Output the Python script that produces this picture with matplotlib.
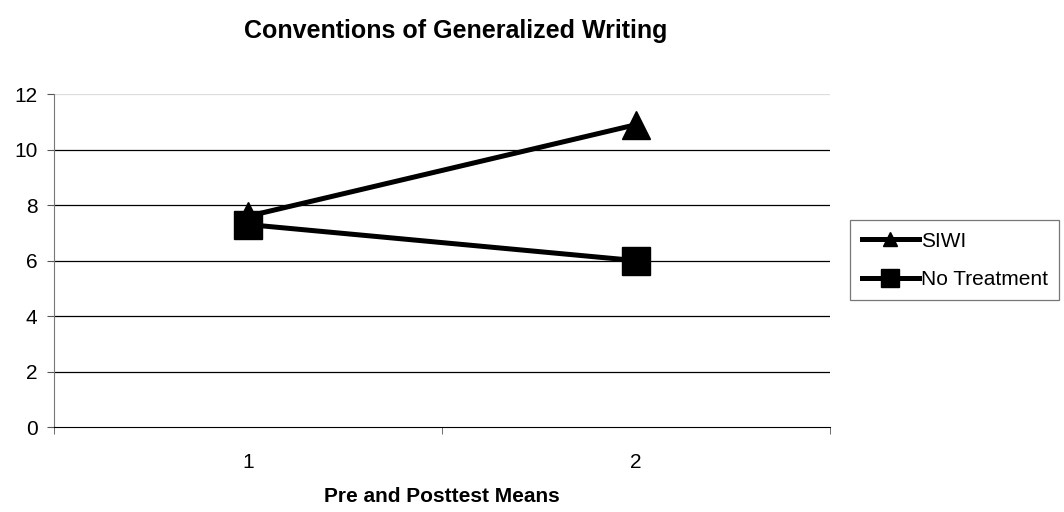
import matplotlib.pyplot as plt
from matplotlib.lines import Line2D

plt.rcParams['font.family'] = ['Liberation Sans', 'DejaVu Sans']

tests = [1, 2]
siwi = [7.6, 10.9]
no_treatment = [7.3, 6.0]
series_names = ["SIWI", "No Treatment"]

fig = plt.figure(figsize=(10.64, 5.12), dpi=100)
ax = fig.add_axes([0.0508, 0.166, 0.729, 0.650])

ax.plot(tests, siwi, color='black', lw=3.6, marker='^', markersize=20)
ax.plot(tests, no_treatment, color='black', lw=3.6, marker='s', markersize=20)

ax.set_xlim(0.5, 2.5)
ax.set_ylim(0, 12)
ax.set_yticks(range(0, 13, 2))
ax.set_xticks(tests)
ax.set_xticks([0.5, 1.5, 2.5], minor=True)
ax.tick_params(axis='x', which='major', length=0, labelsize=15, pad=19)
ax.tick_params(axis='x', which='minor', length=5, color='#555555', direction='out')
ax.tick_params(axis='y', length=5, color='#555555', labelsize=15, pad=7)

for y in range(2, 12, 2):
    ax.axhline(y, color='black', lw=0.9, zorder=0)
ax.axhline(12, color='#dddddd', lw=0.9, zorder=0)

for s in ['top', 'right']:
    ax.spines[s].set_visible(False)
ax.spines['left'].set_color('#777777')
ax.spines['bottom'].set_color('black')

ax.set_xlabel("Pre and Posttest Means", fontsize=15, fontweight='bold', va='center')
ax.xaxis.set_label_coords(0.5, -0.21)
fig.suptitle("Conventions of Generalized Writing", fontsize=18, fontweight='bold',
             x=0.4286, y=0.94, va='center')

handles = [Line2D([], [], color='black', lw=3.6, marker='^', markersize=10),
           Line2D([], [], color='black', lw=3.6, marker='s', markersize=13)]
leg = fig.legend(handles, series_names, loc='upper left', bbox_to_anchor=(0.799, 0.570),
                 fontsize=15, frameon=True, fancybox=False, handlelength=2.75,
                 handletextpad=0.1, borderpad=0.55, labelspacing=0.93, borderaxespad=0)
leg.get_frame().set_edgecolor('#555555')
leg.get_frame().set_linewidth(0.9)

fig.savefig('out.png', dpi=100)
